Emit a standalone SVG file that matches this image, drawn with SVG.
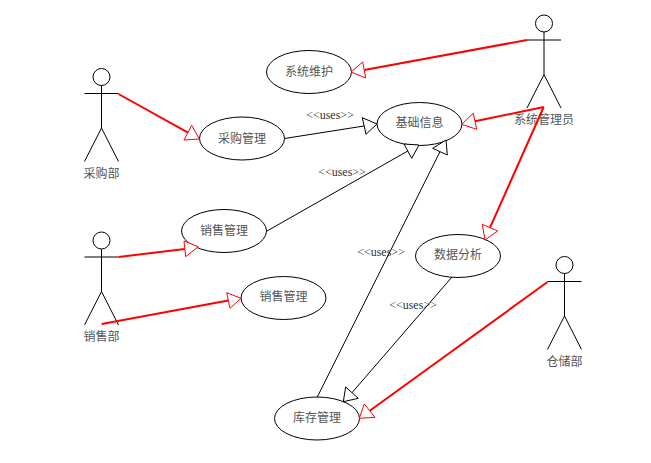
<svg xmlns="http://www.w3.org/2000/svg" width="651" height="463" viewBox="0 0 651 463">
<defs>
<g id="stick" fill="none" stroke="#000" stroke-width="1">
<circle cx="0" cy="-16.5" r="8.5" fill="#fff"/>
<path d="M-17 0H17M0 -8V34.5M0 34.5L-17 68M0 34.5L17 68"/>
</g>
</defs>
<style>
text{font-family:"Liberation Serif","Noto Sans CJK SC",serif;font-size:12px;fill:#555;text-anchor:middle}
.uses{fill:#333}
.uc{fill:#fff;stroke:#000;stroke-width:1}
.red{stroke:#f00;stroke-width:2;fill:none}
.blk{stroke:#000;stroke-width:1;fill:none}
.hr{fill:#fff;stroke:#f00;stroke-width:1}
.hb{fill:#fff;stroke:#000;stroke-width:1}
</style>
<rect width="651" height="463" fill="#fff"/>
<g id="uc-maintenance"><ellipse class="uc" cx="309" cy="72" rx="42.5" ry="21.5"/><text x="309" y="76">系统维护</text></g>
<g id="uc-purchase"><ellipse class="uc" cx="242" cy="138.5" rx="42.5" ry="21.5"/><text x="242" y="142.5">采购管理</text></g>
<g id="uc-basic"><ellipse class="uc" cx="419.5" cy="124" rx="42.5" ry="21.5"/><text x="419.5" y="127">基础信息</text></g>
<g id="uc-sales-1"><ellipse class="uc" cx="224" cy="231" rx="42.5" ry="21.5"/><text x="224" y="235">销售管理</text></g>
<g id="uc-sales-2"><ellipse class="uc" cx="283.5" cy="298" rx="42.5" ry="21.5"/><text x="283.5" y="301">销售管理</text></g>
<g id="uc-analysis"><ellipse class="uc" cx="458" cy="256" rx="42.5" ry="21.5"/><text x="458" y="259">数据分析</text></g>
<g id="uc-inventory"><ellipse class="uc" cx="317" cy="418.5" rx="42.5" ry="21.5"/><text x="317" y="422">库存管理</text></g>
<g id="actor-purchasing"><use href="#stick" x="101.5" y="93.5"/><text x="101.5" y="178">采购部</text></g>
<g id="actor-sales"><use href="#stick" x="101.5" y="257"/><text x="101.5" y="341">销售部</text></g>
<g id="actor-admin"><use href="#stick" x="544" y="40"/><text x="544" y="124">系统管理员</text></g>
<g id="actor-warehouse"><use href="#stick" x="564.5" y="281.5"/><text x="564.5" y="366">仓储部</text></g>
<g id="connectors">
<path class="blk" d="M284.5 138.5L364 126"/>
<polygon class="hb" points="377,124 362.3,117.7 366,134.3"/>
<path class="blk" d="M267 231L407.8 151"/>
<polygon class="hb" points="419,145 404,144 411.7,158.3"/>
<path class="blk" d="M317.3 397L440 151.7"/>
<polygon class="hb" points="446,140 432.7,148.3 447.3,155"/>
<path class="blk" d="M452 277L352 392.7"/>
<polygon class="hb" points="343.3,401.7 345.7,387 358.3,398.3"/>
<path class="red" d="M118.5 94L188 132.6"/>
<polygon class="hr" points="199.3,139 184,140 191.7,125.3"/>
<path class="red" d="M527 40L364.2 70"/>
<polygon class="hr" points="351,72 362.7,62 365.7,78"/>
<path class="red" d="M543.7 107L475 121.3"/>
<polygon class="hr" points="461.7,124.3 473.3,113.3 476.7,129.3"/>
<path class="red" d="M543.7 107L490 227.7"/>
<polygon class="hr" points="485,240 482.3,224.3 497.7,231"/>
<path class="red" d="M118.5 257L184.8 249"/>
<polygon class="hr" points="198.3,246.7 184,241 185.7,256.7"/>
<path class="red" d="M101.7 324L228.3 300.5"/>
<polygon class="hr" points="241,298.3 226.7,292.7 230,308.3"/>
<path class="red" d="M547.5 282L369.7 410.7"/>
<polygon class="hr" points="359.3,418.3 364.3,404 375,417.3"/>
</g>
<g id="label-uses-1"><text class="uses" x="330" y="119">&lt;&lt;uses&gt;&gt;</text></g>
<g id="label-uses-2"><text class="uses" x="342" y="176">&lt;&lt;uses&gt;&gt;</text></g>
<g id="label-uses-3"><text class="uses" x="381" y="256">&lt;&lt;uses&gt;&gt;</text></g>
<g id="label-uses-4"><text class="uses" x="413" y="309">&lt;&lt;uses&gt;&gt;</text></g>
</svg>
